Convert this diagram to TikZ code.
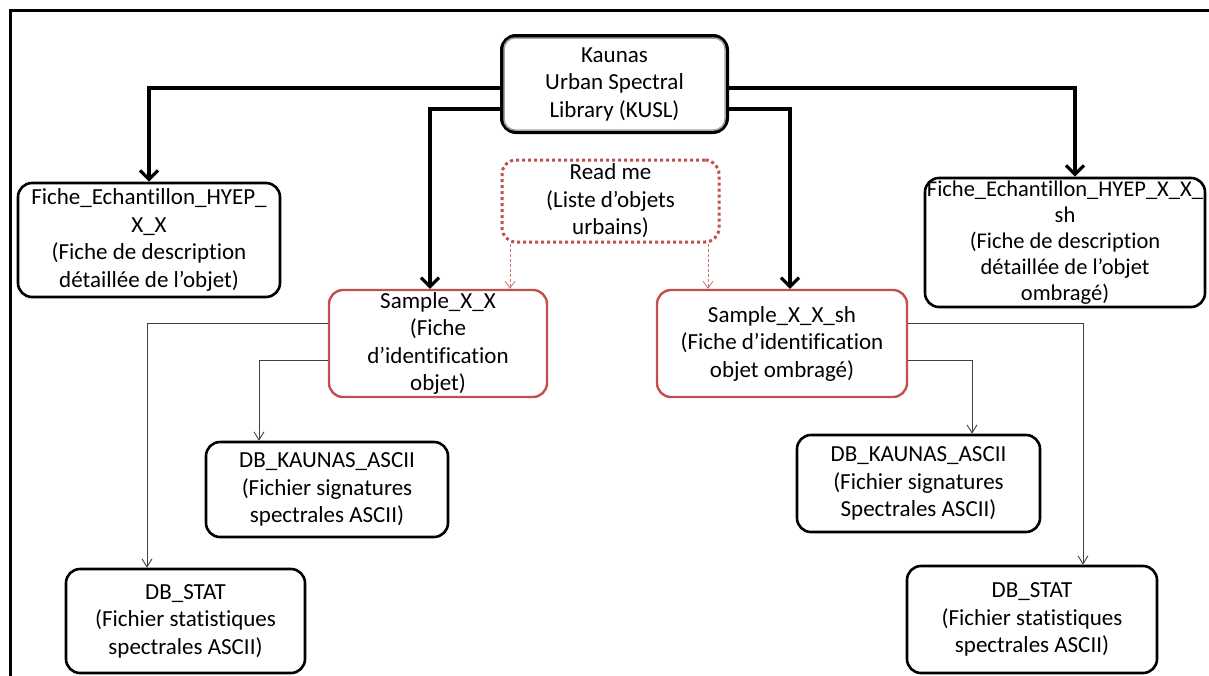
\documentclass[tikz,border=0pt]{standalone}
\usepackage{fontspec}
\setmainfont{Carlito}[Ligatures=CommonOff]
\usetikzlibrary{arrows.meta}
\definecolor{redb}{HTML}{C0504D}
\definecolor{thinc}{HTML}{404040}
\begin{document}
\begin{tikzpicture}[x=1pt,y=-1pt,
  box/.style={draw=black, line width=2.6pt, rounded corners=14pt, align=center, inner sep=0pt,
    font=\fontsize{23}{27.5}\selectfont},
  redbox/.style={box, draw=redb, line width=2.4pt},
  big/.style={line width=3.2pt, -{Straight Barb[length=9pt,width=18pt]}},
  sub/.style={draw=thinc, line width=0.9pt, -{Straight Barb[length=8pt,width=10pt]}},
  rmarrow/.style={draw=redb!80, line width=0.8pt, densely dashed, -{Straight Barb[length=7pt,width=10pt]}}]
\useasboundingbox (0,0) rectangle (1209,675);
\draw[line width=3pt] (10,690) -- (10,10) -- (1220,10);

\node[box, line width=4pt, minimum width=225pt, minimum height=96pt] (k) at (614.5,84)
  {Kaunas\\Urban Spectral\\Library (KUSL)};
\draw[gray!70, line width=1.5pt, rounded corners=11pt]
  ([shift={(4,4)}]k.north west) rectangle ([shift={(-4,-4)}]k.south east);

\node[box, minimum width=262pt, minimum height=114pt] (f1) at (149,240)
  {Fiche\_Echantillon\_HYEP\_\\X\_X\\(Fiche de description\\détaillée de l’objet)};
\node[box, draw=redb, line width=3pt, dash pattern=on 3pt off 3pt, minimum width=217pt, minimum height=82pt] (rm) at (610.5,201)
  {Read me\\(Liste d’objets\\urbains)};
\node[box, minimum width=280pt, minimum height=129pt, font=\fontsize{22.5}{26}\selectfont] (f2) at (1065,242.5)
  {Fiche\_Echantillon\_HYEP\_X\_X\_\\sh\\(Fiche de description\\détaillée de l’objet\\ombragé)};
\node[redbox, minimum width=218pt, minimum height=107pt] (s1) at (438,343.5)
  {Sample\_X\_X\\(Fiche\\d’identification\\objet)};
\node[redbox, minimum width=250pt, minimum height=107pt] (s2) at (782,343.5)
  {Sample\_X\_X\_sh\\(Fiche d’identification\\objet ombragé)};
\node[box, minimum width=242pt, minimum height=95pt] (d1) at (327,489.5)
  {DB\_KAUNAS\_ASCII\\(Fichier signatures\\spectrales ASCII)};
\node[box, minimum width=243pt, minimum height=97pt] (d2) at (918.5,483.5)
  {DB\_KAUNAS\_ASCII\\(Fichier signatures\\Spectrales ASCII)};
\node[box, minimum width=239pt, minimum height=104pt] (t1) at (185.5,621)
  {DB\_STAT\\(Fichier statistiques\\spectrales ASCII)};
\node[box, minimum width=250pt, minimum height=107pt] (t2) at (1032,619.5)
  {DB\_STAT\\(Fichier statistiques\\spectrales ASCII)};

\draw[big] (k.west |- 0,88) -| (f1.north);
\draw[big] (k.west |- 0,109) -| (s1.north -| 430,0);
\draw[big] (k.east |- 0,88) -| (f2.north -| 1075,0);
\draw[big] (k.east |- 0,109) -| (s2.north -| 790,0);

\draw[rmarrow] (rm.south -| 510,0) -- (s1.north -| 510,0);
\draw[rmarrow] (rm.south -| 708,0) -- (s2.north -| 708,0);

\draw[sub] (s1.west |- 0,323) -| (t1.north -| 147,0);
\draw[sub] (s1.west |- 0,360) -| (d1.north -| 259,0);
\draw[sub] (s2.east |- 0,323) -| (t2.north -| 1083,0);
\draw[sub] (s2.east |- 0,360) -| (d2.north -| 972,0);
\end{tikzpicture}
\end{document}
